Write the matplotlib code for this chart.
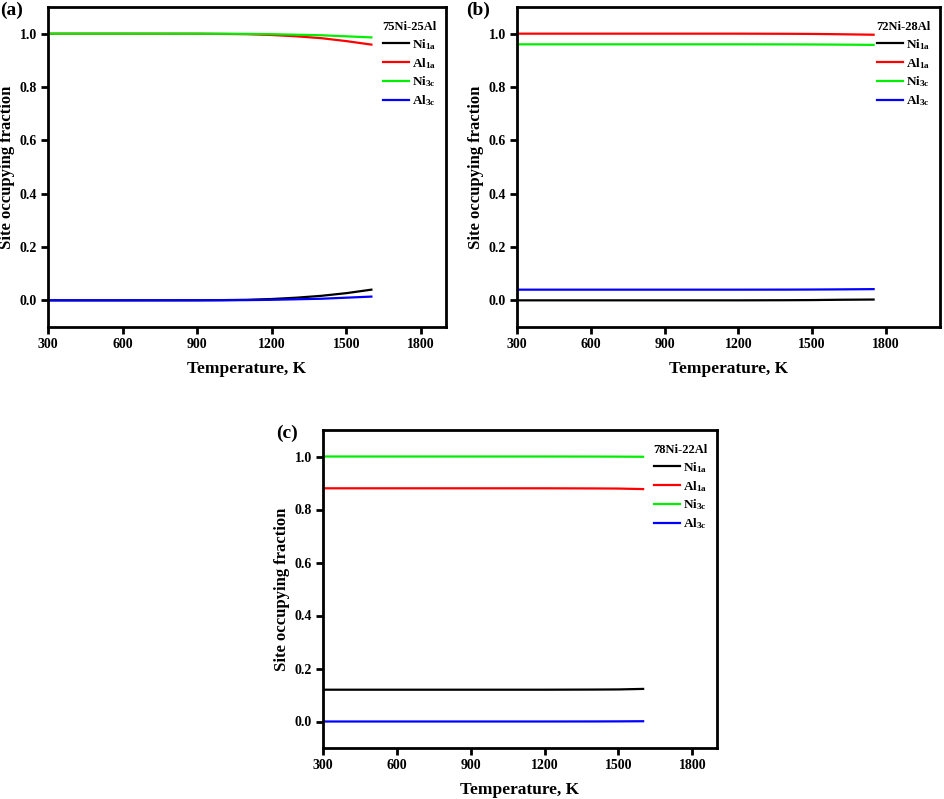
import matplotlib
matplotlib.use("Agg")
import matplotlib.pyplot as plt
import numpy as np

plt.rcParams['font.family'] = ['Liberation Serif', 'DejaVu Serif']
plt.rcParams['font.weight'] = 'bold'
plt.rcParams['mathtext.fontset'] = 'custom'
plt.rcParams['mathtext.rm'] = 'Liberation Serif:bold'
plt.rcParams['mathtext.bf'] = 'Liberation Serif:bold'
plt.rcParams['mathtext.it'] = 'Liberation Serif:bold'

# ---- data ----
temp_a = [300, 600, 900, 1000, 1100, 1200, 1300, 1400, 1500, 1600]
ni1a_a = [0.0, 0.0, 0.0002, 0.0008, 0.002, 0.005, 0.010, 0.017, 0.027, 0.040]
al1a_a = [1.0, 1.0, 0.9998, 0.999, 0.998, 0.995, 0.990, 0.983, 0.972, 0.959]
ni3c_a = [1.0, 1.0, 0.9999, 0.9997, 0.9992, 0.998, 0.996, 0.994, 0.990, 0.986]
al3c_a = [0.0, 0.0, 0.0001, 0.0003, 0.0008, 0.002, 0.004, 0.006, 0.010, 0.014]

temp_b = [300, 600, 900, 1200, 1400, 1500, 1600, 1750]
ni1a_b = [0.0, 0.0, 0.0, 0.0, 0.0005, 0.001, 0.002, 0.003]
al1a_b = [1.0, 1.0, 1.0, 1.0, 0.9995, 0.999, 0.998, 0.996]
ni3c_b = [0.960, 0.960, 0.960, 0.960, 0.9598, 0.9595, 0.959, 0.958]
al3c_b = [0.040, 0.040, 0.040, 0.040, 0.0402, 0.0405, 0.041, 0.042]

temp_c = [300, 600, 900, 1200, 1400, 1500, 1600]
ni1a_c = [0.120, 0.120, 0.120, 0.120, 0.1205, 0.121, 0.123]
al1a_c = [0.880, 0.880, 0.880, 0.880, 0.8795, 0.879, 0.877]
ni3c_c = [1.0, 1.0, 1.0, 1.0, 0.9998, 0.9995, 0.999]
al3c_c = [0.0, 0.0, 0.0, 0.0, 0.0002, 0.0005, 0.001]

series_labels = [r'$\mathbf{Ni_{1a}}$', r'$\mathbf{Al_{1a}}$', r'$\mathbf{Ni_{3c}}$', r'$\mathbf{Al_{3c}}$']
colors = ['black', 'red', '#00ee00', 'blue']
xticks = [300, 600, 900, 1200, 1500, 1800]
yticks = [0.0, 0.2, 0.4, 0.6, 0.8, 1.0]

fig = plt.figure(figsize=(9.45, 7.99), dpi=100)
W, H = 945, 799

def make_ax(l, r, t, b):
    return fig.add_axes([l / W, 1 - b / H, (r - l) / W, (b - t) / H])

panels = [
    (make_ax(48, 446, 7, 327), temp_a, [ni1a_a, al1a_a, ni3c_a, al3c_a], '75Ni-25Al', '(a)', 1900),
    (make_ax(517, 940, 7, 327), temp_b, [ni1a_b, al1a_b, ni3c_b, al3c_b], '72Ni-28Al', '(b)', 2020),
    (make_ax(323, 717, 430, 748), temp_c, [ni1a_c, al1a_c, ni3c_c, al3c_c], '78Ni-22Al', '(c)', 1900),
]

for ax, t, ys, title, tag, xmax in panels:
    for y, c, lab in zip(ys, colors, series_labels):
        ax.plot(t, y, color=c, lw=1.6, label=lab)
    ax.set_xlim(300, xmax)
    ax.set_ylim(-0.1, 1.1)
    ax.set_xticks(xticks)
    ax.set_yticks(yticks)
    ax.set_yticklabels([f'{v:.1f}' for v in yticks])
    for s in ax.spines.values():
        s.set_linewidth(2)
    ax.tick_params(direction='out', width=2, length=5, labelsize=10, pad=3)
    for lbl in ax.get_xticklabels() + ax.get_yticklabels():
        lbl.set_fontweight('bold')
    ax.set_xlabel('Temperature, K', fontsize=12.5, fontweight='bold', labelpad=7)
    ax.set_ylabel('Site occupying fraction', fontsize=12, fontweight='bold', labelpad=3)
    leg = ax.legend(loc='upper right', frameon=False, title=title, fontsize=9.5,
                    title_fontproperties={'weight': 'bold', 'size': 9},
                    handlelength=2.0, handletextpad=0.25, labelspacing=0.3,
                    borderaxespad=0.3, bbox_to_anchor=(1.0, 0.985))
    leg._legend_box.align = 'right'
    ax.text(-0.12, 1.017, tag, transform=ax.transAxes, fontsize=14, fontweight='bold',
            ha='left', va='top')

fig.savefig('out.png', dpi=100)
